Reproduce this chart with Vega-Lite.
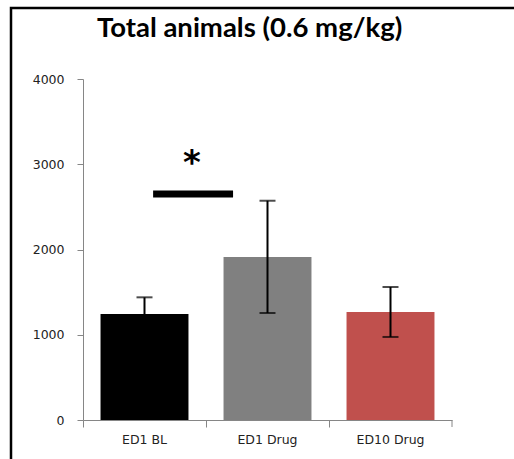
{
  "$schema": "https://vega.github.io/schema/vega-lite/v6.json",
  "width": 513,
  "height": 461,
  "autosize": "none",
  "padding": {"left": 11, "top": 8, "right": -10, "bottom": -10},
  "background": "white",
  "config": {
    "view": {"stroke": "black", "strokeWidth": 2.5},
    "axis": {"grid": false, "domainColor": "#868686", "tickColor": "#868686", "labelColor": "#222222", "labelFont": "DejaVu Sans", "labelFontSize": 12.5, "title": null}
  },
  "title": {
    "text": "Total animals (0.6 mg/kg)",
    "font": "Lato",
    "fontSize": 27.5,
    "fontWeight": "bold",
    "color": "black",
    "anchor": "start",
    "baseline": "alphabetic",
    "dx": 86,
    "offset": -56
  },
  "datasets": {
    "bars": [
      {"group": "ED1 BL", "mean": 1243, "lower": 1047, "upper": 1439},
      {"group": "ED1 Drug", "mean": 1912, "lower": 1255, "upper": 2572},
      {"group": "ED10 Drug", "mean": 1267, "lower": 974, "upper": 1560}
    ],
    "sig": [{"from": 0.57, "to": 1.22, "y": 2651}],
    "star": [{"pos": 0.885, "y": 2880, "label": "*"}],
    "endtick": [{"pos": 3, "y": 0, "y2": -82}]
  },
  "layer": [
    {
      "data": {"name": "bars"},
      "encoding": {
        "x": {
          "field": "group",
          "type": "nominal",
          "sort": null,
          "scale": {"domain": ["ED1 BL", "ED1 Drug", "ED10 Drug"], "range": [72, 441], "paddingInner": 0, "paddingOuter": 0},
          "axis": {"orient": "bottom", "offset": -49, "bandPosition": 0, "tickSize": 7, "labelPadding": 6, "labelAngle": 0}
        }
      },
      "layer": [
        {
          "mark": {"type": "bar", "width": {"band": 0.715}},
          "encoding": {
            "y": {
              "field": "mean",
              "type": "quantitative",
              "scale": {"domain": [0, 4000], "range": [412, 71], "nice": false, "zero": true},
              "axis": {"orient": "left", "offset": -72, "values": [0, 1000, 2000, 3000, 4000], "format": "d", "tickSize": 6, "labelPadding": 13}
            },
            "color": {"field": "group", "type": "nominal", "scale": {"domain": ["ED1 BL", "ED1 Drug", "ED10 Drug"], "range": ["#000000", "#808080", "#c0504d"]}, "legend": null}
          }
        },
        {
          "mark": {"type": "rule", "color": "black", "strokeWidth": 2},
          "encoding": {
            "y": {"field": "lower", "type": "quantitative"},
            "y2": {"field": "upper"}
          }
        },
        {
          "mark": {"type": "tick", "color": "black", "thickness": 2, "size": 16},
          "encoding": {"y": {"field": "upper", "type": "quantitative"}}
        },
        {
          "mark": {"type": "tick", "color": "black", "thickness": 2, "size": 16},
          "encoding": {"y": {"field": "lower", "type": "quantitative"}}
        }
      ]
    },
    {
      "layer": [
        {
          "data": {"name": "sig"},
          "mark": {"type": "rule", "color": "black", "strokeWidth": 7, "strokeCap": "butt"},
          "encoding": {
            "x": {"field": "from", "type": "quantitative", "scale": {"domain": [0, 3], "range": [72, 441], "nice": false, "zero": false}, "axis": null},
            "x2": {"field": "to"},
            "y": {"field": "y", "type": "quantitative"}
          }
        },
        {
          "data": {"name": "star"},
          "mark": {"type": "text", "font": "DejaVu Sans", "fontSize": 34, "fontWeight": "bold", "baseline": "alphabetic", "align": "center", "color": "black"},
          "encoding": {
            "x": {"field": "pos", "type": "quantitative", "axis": null},
            "y": {"field": "y", "type": "quantitative"},
            "text": {"field": "label"}
          }
        },
        {
          "data": {"name": "endtick"},
          "mark": {"type": "rule", "color": "#868686", "strokeWidth": 1},
          "encoding": {
            "x": {"field": "pos", "type": "quantitative", "axis": null},
            "y": {"field": "y", "type": "quantitative"},
            "y2": {"field": "y2"}
          }
        }
      ]
    }
  ],
  "resolve": {"scale": {"x": "independent"}}
}
